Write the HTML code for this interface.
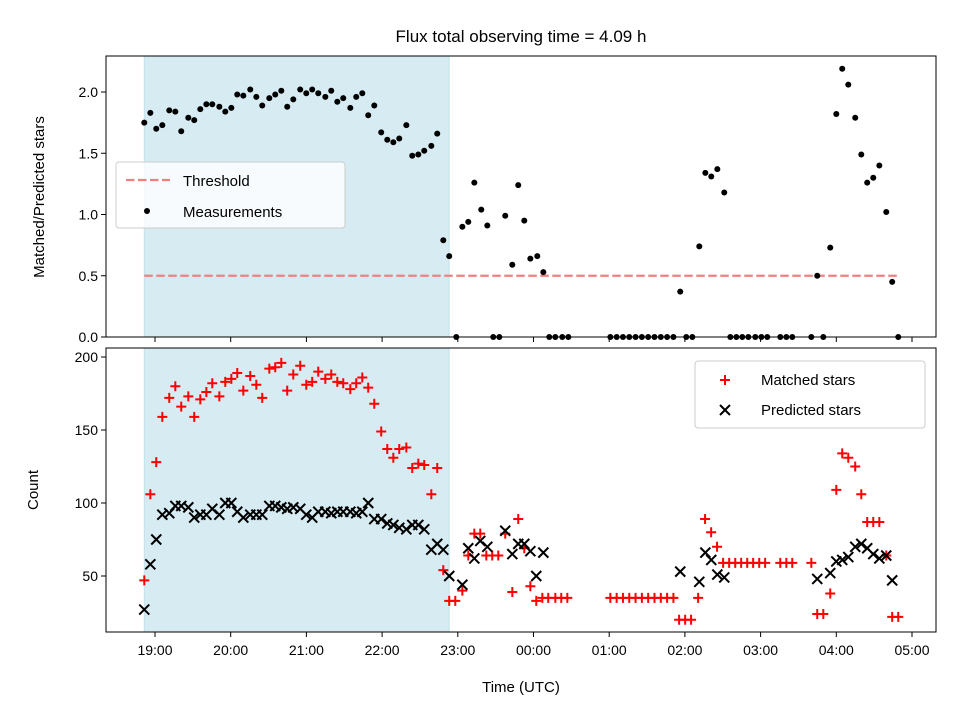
<!DOCTYPE html>
<html><head><meta charset="utf-8"><style>
body{margin:0;background:#fff}
svg text{font-family:"Liberation Sans","DejaVu Sans",sans-serif;fill:#000}
</style></head><body>
<svg id="chart" width="960" height="720" viewBox="0 0 960 720" xmlns="http://www.w3.org/2000/svg">
<text x="521" y="42" font-size="17" text-anchor="middle">Flux total observing time = 4.09 h</text>
<g id="topPanel"></g>
<g id="botPanel"></g>
</svg>
<script>
// minutes since 19:00 UTC
const ratioTime=[-8.5,-3.7,1.0,5.8,11.3,16.1,20.8,26.4,31.1,35.9,40.7,45.4,51.0,55.7,60.5,65.2,70.0,75.5,80.3,85.0,90.6,95.3,100.1,104.8,109.6,115.1,119.9,124.6,129.4,135.0,139.7,144.5,149.2,154.8,159.5,164.3,169.0,173.8,179.3,184.1,188.9,193.6,199.2,203.9,208.7,213.4,219.0,223.7,228.5,233.2,
238.8,243.6,248.3,253.1,258.6,263.4,268.1,272.9,277.6,283.2,287.9,292.7,297.5,303.0,307.8,312.5,317.3,322.8,327.6,
360.9,365.9,370.9,375.9,380.9,385.9,390.9,395.9,400.9,405.9,410.9,416.3,421.1,425.9,431.4,436.2,440.9,445.7,451.2,
456.0,460.8,465.5,470.3,475.8,480.6,485.3,495.6,500.4,505.1,520.2,524.9,529.7,535.2,540.0,544.7,549.5,555.0,559.8,564.5,569.3,574.1,579.6,584.3,589.1];
const ratioValue=[1.75,1.83,1.70,1.73,1.85,1.84,1.68,1.79,1.77,1.86,1.90,1.90,1.88,1.84,1.87,1.98,1.97,2.02,1.96,1.89,1.95,1.98,2.01,1.88,1.94,2.02,1.99,2.02,1.99,1.96,2.01,1.92,1.95,1.87,1.96,1.99,1.81,1.89,1.67,1.61,1.59,1.62,1.73,1.48,1.49,1.52,1.56,1.66,0.79,0.66,
0,0.90,0.94,1.26,1.04,0.91,0,0,0.99,0.59,1.24,0.95,0.64,0.66,0.53,0,0,0,0,
0,0,0,0,0,0,0,0,0,0,0,0.37,0,0,0.74,1.34,1.31,1.37,1.18,
0,0,0,0,0,0,0,0,0,0,0,0.50,0,0.73,1.82,2.19,2.06,1.79,1.49,1.26,1.30,1.40,1.02,0.45,0];
const threshold=0.5;
const matchedTime=[-8.5,-3.7,1.0,5.8,11.3,16.1,20.8,26.4,31.1,35.9,40.7,45.4,51.0,55.7,60.5,65.2,70.0,75.5,80.3,85.0,90.6,95.3,100.1,104.8,109.6,115.1,119.9,124.6,129.4,135.0,139.7,144.5,149.2,154.8,159.5,164.3,169.0,173.8,179.3,184.1,188.9,193.6,199.2,203.9,208.7,213.4,219.0,223.7,228.5,233.2,
238.0,243.6,248.3,253.1,257.8,262.6,267.3,272.1,277.6,283.2,287.9,292.7,297.5,302.2,307.0,311.7,317.3,322.0,326.8,
360.9,365.9,370.9,375.9,380.9,385.9,390.9,395.9,400.9,405.9,410.9,415.4,420.2,424.9,430.5,436.0,440.8,445.5,
450.3,455.1,459.9,464.6,469.4,474.1,478.9,483.6,495.6,500.4,505.1,520.2,524.9,529.7,535.2,540.0,544.7,549.5,555.0,559.8,564.5,569.3,574.1,579.6,584.3,589.1];
const matched=[47,106,128,159,172,180,166,173,159,171,176,182,173,183,185,189,177,187,181,172,192,193,196,177,188,194,181,183,190,185,188,183,182,178,182,186,179,168,149,137,131,137,138,124,127,126,106,124,54,33,
33,40,64,79,79,64,64,64,79,39,89,69,43,33,35,35,35,35,35,
35,35,35,35,35,35,35,35,35,35,35,20,20,20,35,89,80,70,
59,59,59,59,59,59,59,59,59,59,59,59,24,24,38,109,134,131,125,106,87,87,87,64,22,22];
const predTime=[-8.5,-3.7,1.0,5.8,11.3,16.1,20.8,26.4,31.1,35.9,40.7,45.4,51.0,55.7,60.5,65.2,70.0,75.5,80.3,85.0,90.6,95.3,100.1,104.8,109.6,115.1,119.9,124.6,129.4,135.0,139.7,144.5,149.2,154.8,159.5,164.3,169.0,173.8,179.3,184.1,188.9,193.6,199.2,203.9,208.7,213.4,219.0,223.7,228.5,233.2,
243.6,248.3,253.1,257.8,263.4,277.6,283.2,287.9,292.7,297.5,302.2,307.8,
416.3,431.4,436.2,440.9,445.7,451.2,524.9,535.2,540.0,544.7,549.5,555.0,559.8,564.5,569.3,574.1,579.6,584.3];
const predicted=[27,58,75,92,93,98,98,97,90,92,92,96,92,100,100,94,90,92,92,92,98,98,97,96,97,96,92,90,94,94,93,94,94,94,93,94,100,89,89,86,85,83,82,85,85,82,68,72,68,50,
44,69,62,74,70,81,65,72,72,67,50,66,
53,46,66,61,51,49,48,52,60,61,63,70,72,69,65,62,64,47];
const hours=["19:00","20:00","21:00","22:00","23:00","00:00","01:00","02:00","03:00","04:00","05:00"];
const ratioTicks=[0,0.5,1,1.5,2];
const countTicks=[50,100,150,200];
const shadeStart=-8.5, shadeEnd=233.2;

const NS="http://www.w3.org/2000/svg";
const L=106,R=936;
const X=m=>155+(m)*75.7/60;
const TT=56,TB=337,BT=348,BB=632;
const Yt=v=>337-v*122.5;
const Yb=v=>576-(v-50)*1.46;
function mk(parent,tag,attrs){const e=document.createElementNS(NS,tag);for(const k in attrs)e.setAttribute(k,attrs[k]);parent.appendChild(e);return e;}
const topG=document.getElementById('topPanel'), botG=document.getElementById('botPanel');

function panel(g,yT,yB,yTicks,yf,fmt,showX,name){
  let s=mk(g,'rect',{x:X(shadeStart),y:yT,width:X(shadeEnd)-X(shadeStart),height:yB-yT,fill:'#add8e6','fill-opacity':0.5,stroke:'#add8e6','stroke-opacity':0.6});
  
  
  hours.forEach((h,i)=>{const x=X(i*60);
    const t=mk(g,'line',{x1:x,x2:x,y1:yB,y2:yB+5,stroke:'#000','stroke-width':1});
    
    
    if(showX){const tx=mk(g,'text',{x:x,y:yB+23,'font-size':14,'text-anchor':'middle'});tx.textContent=h;
      
      }
  });
  yTicks.forEach(v=>{const y=yf(v);
    const t=mk(g,'line',{x1:L-5,x2:L,y1:y,y2:y,stroke:'#000','stroke-width':1});
    
    
    const tx=mk(g,'text',{x:L-8,y:y+5,'font-size':14,'text-anchor':'end'});tx.textContent=fmt(v);
    
    
  });
}
panel(topG,TT,TB,ratioTicks,Yt,v=>v.toFixed(1),false,'top');
panel(botG,BT,BB,countTicks,Yb,v=>String(v),true,'bottom');

const th=mk(topG,'line',{x1:X(shadeStart),x2:X(589.1),y1:Yt(threshold),y2:Yt(threshold),stroke:'#f08080','stroke-width':2.2,'stroke-dasharray':'8.5,3.5'});


ratioTime.forEach((t,i)=>{
  const c=mk(topG,'circle',{cx:X(t),cy:Yt(ratioValue[i]),r:3,fill:'#000'});
  
  
});
matchedTime.forEach((t,i)=>{
  const x=X(t),y=Yb(matched[i]);
  const p=mk(botG,'path',{d:`M${x-5},${y}H${x+5}M${x},${y-5}V${y+5}`,stroke:'#f00','stroke-width':2,fill:'none'});
  
  
});
predTime.forEach((t,i)=>{
  const x=X(t),y=Yb(predicted[i]);
  const p=mk(botG,'path',{d:`M${x-5},${y-5}L${x+5},${y+5}M${x-5},${y+5}L${x+5},${y-5}`,stroke:'#000','stroke-width':2,fill:'none'});
  
  
});
[[topG,TT,TB,'top-frame'],[botG,BT,BB,'bottom-frame']].forEach(([g,a,b,n])=>{
  const r=mk(g,'rect',{x:L,y:a,width:R-L,height:b-a,fill:'none',stroke:'#000','stroke-width':1});
  
  
});
const svg=document.getElementById('chart');
let yl=mk(svg,'text',{x:0,y:0,'font-size':15,'text-anchor':'middle',transform:'translate(44,197) rotate(-90)'});yl.textContent='Matched/Predicted stars';


let yl2=mk(svg,'text',{x:0,y:0,'font-size':15,'text-anchor':'middle',transform:'translate(38,490) rotate(-90)'});yl2.textContent='Count';


let xl=mk(svg,'text',{x:521,y:692,'font-size':15,'text-anchor':'middle'});xl.textContent='Time (UTC)';


let lg=mk(svg,'g',{});


mk(lg,'rect',{x:116,y:162,width:229,height:66,rx:3,fill:'#fff','fill-opacity':0.8,stroke:'#ccc'});
mk(lg,'line',{x1:126,x2:170,y1:180,y2:180,stroke:'#f08080','stroke-width':2.2,'stroke-dasharray':'8.5,3.5'});
mk(lg,'circle',{cx:147,cy:211,r:3,fill:'#000'});
let t1=mk(lg,'text',{x:183,y:186,'font-size':15});t1.textContent='Threshold';


let t2=mk(lg,'text',{x:183,y:217,'font-size':15});t2.textContent='Measurements';


let lg2=mk(svg,'g',{});


mk(lg2,'rect',{x:695,y:361,width:230,height:67,rx:3,fill:'#fff','fill-opacity':0.8,stroke:'#ccc'});
mk(lg2,'path',{d:'M720,380H730M725,375V385',stroke:'#f00','stroke-width':2});
mk(lg2,'path',{d:'M720,405L730,415M720,415L730,405',stroke:'#000','stroke-width':2});
let t3=mk(lg2,'text',{x:761,y:385,'font-size':15});t3.textContent='Matched stars';


let t4=mk(lg2,'text',{x:761,y:415,'font-size':15});t4.textContent='Predicted stars';


</script>
</body></html>
